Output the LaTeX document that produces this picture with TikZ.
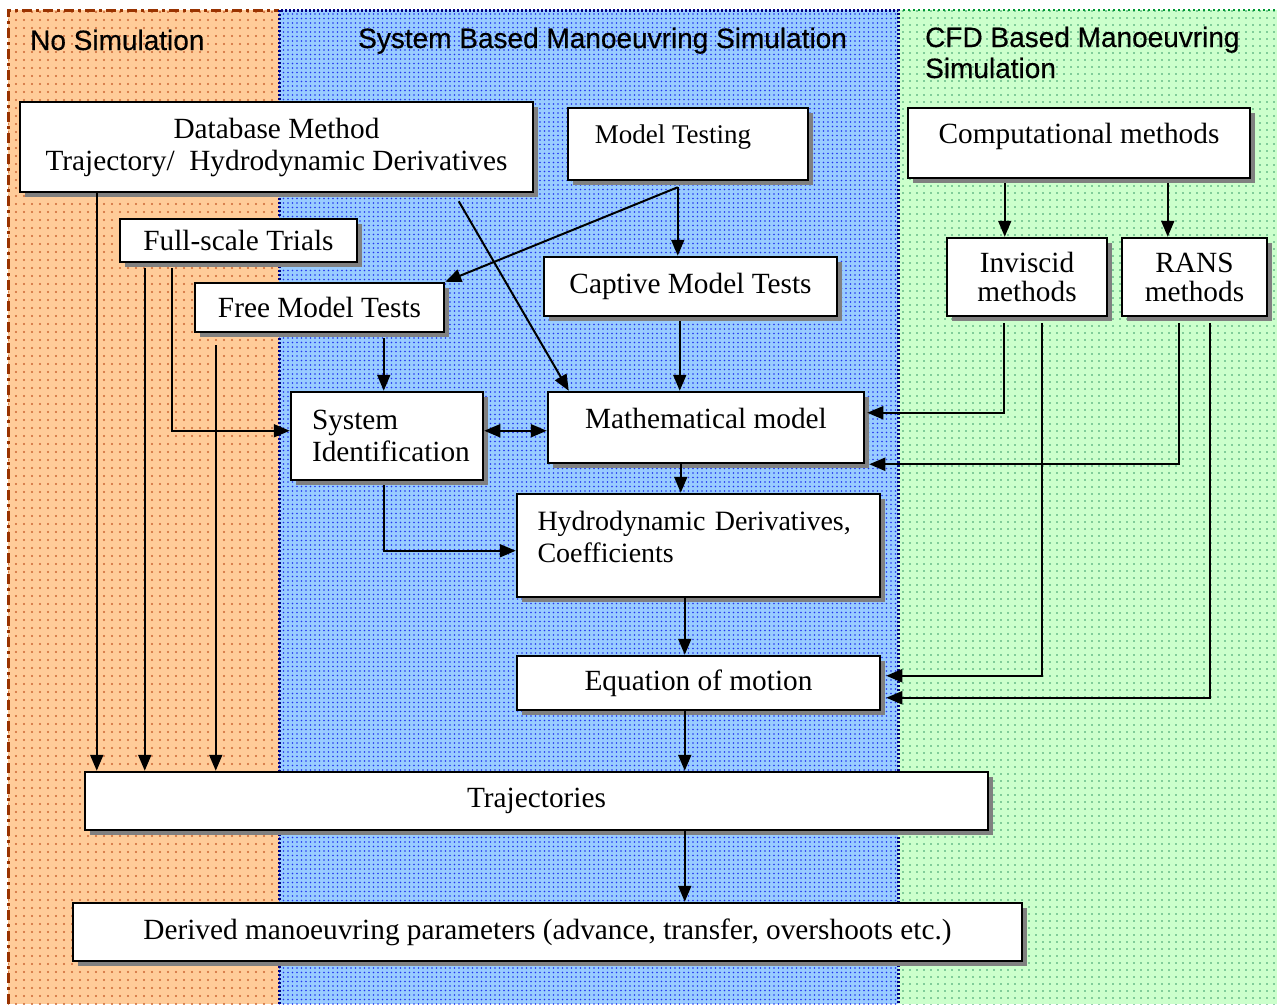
\documentclass[tikz,border=0pt]{standalone}
\usepackage{fontspec}
\setmainfont{Liberation Serif}
\newfontfamily\hdfont[FakeBold=0.4]{Liberation Sans}
\usetikzlibrary{arrows.meta,shadows,patterns.meta}
\definecolor{orfill}{HTML}{FFCC99}
\definecolor{ordot}{HTML}{CC6633}
\definecolor{orline}{HTML}{993300}
\definecolor{blfill}{HTML}{99CCFF}
\definecolor{bldot}{HTML}{2233EE}
\definecolor{blline}{HTML}{000080}
\definecolor{grfill}{HTML}{CCFFCC}
\definecolor{grdot}{HTML}{339966}
\definecolor{grline}{HTML}{009933}
\begin{document}
\begin{tikzpicture}[x=1pt,y=-1pt,
  box/.style={draw=black, line width=2.5pt, fill=white, inner sep=0pt,
    drop shadow={shadow xshift=5pt, shadow yshift=-5pt, fill=gray, opacity=1},
    font=\fontsize{29.3}{32}\selectfont, align=center},
  hdtext/.style={inner sep=0pt, font=\hdfont\fontsize{28}{31}\selectfont, anchor=base west},
  conn/.style={line width=2pt, -{Triangle[length=16pt,width=13pt]}},
  dconn/.style={line width=2pt, {Triangle[length=16pt,width=13pt]}-{Triangle[length=16pt,width=13pt]}},
]
\useasboundingbox (0,0) rectangle (1277,1004);
\fill[white] (0,0) rectangle (1277,1004);
% panels
\fill[orfill] (8,10) rectangle (279,1004);
\fill[pattern={Dots[distance=8pt,radius=1.1pt]}, pattern color=ordot] (8,10) rectangle (279,1004);
\fill[blfill] (279,10) rectangle (898,1004);
\fill[pattern={Dots[distance=4.5pt,radius=0.9pt]}, pattern color=bldot] (279,10) rectangle (898,1004);
\fill[grfill] (898,10) rectangle (1277,1004);
\fill[pattern={Dots[distance=6.5pt,radius=1pt]}, pattern color=grdot] (898,10) rectangle (1277,1004);
\draw[orline, line width=3pt, dash pattern=on 10pt off 4pt on 3pt off 4pt] (8,1004) -- (8,10) -- (279,10);
\draw[grline, line width=2.5pt, dash pattern=on 2pt off 3pt] (898,10) -- (1277,10);
\draw[blline, line width=3pt, dash pattern=on 2pt off 2pt] (279,1004) -- (279,10) -- (898,10) -- (898,1004);
% headings
\node[hdtext] (h1) at (30,50) {No Simulation};
\node[hdtext] (h2) at (358,48) {System Based Manoeuvring Simulation};
\node[hdtext] (h3) at (925,47) {CFD Based Manoeuvring};
\node[hdtext] (h4) at (925,78) {Simulation};
% boxes
\node[box, minimum width=513pt, minimum height=90pt] (db) at (276.5,147) {Database Method\\Trajectory/\ \ Hydrodynamic Derivatives};
\node[box, minimum width=240pt, minimum height=72pt, font=\fontsize{27}{30}\selectfont, text height=19pt, text depth=21pt] (mt) at (688,144) {Model Testing\hspace{30pt}};
\node[box, minimum width=342pt, minimum height=70pt, text height=19pt, text depth=19pt] (cm) at (1079,143) {Computational methods};
\node[box, minimum width=237pt, minimum height=43pt] (fs) at (238.5,240.5) {Full-scale Trials};
\node[box, minimum width=293pt, minimum height=59pt] (cap) at (690.5,286.5) {Captive Model Tests};
\node[box, minimum width=249pt, minimum height=49pt] (fm) at (319.5,307.5) {Free Model Tests};
\node[box, minimum width=160pt, minimum height=78pt, font=\fontsize{29.3}{29}\selectfont] (inv) at (1027,277) {Inviscid\\methods};
\node[box, minimum width=145pt, minimum height=78pt, font=\fontsize{29.3}{29}\selectfont] (rans) at (1194.5,277) {RANS\\methods};
\node[box, minimum width=192pt, minimum height=88pt, text width=150pt, align=left] (sid) at (387,436) {System\\\mbox{Identification}};
\node[box, minimum width=316pt, minimum height=71pt, text height=19pt, text depth=18pt] (mm) at (706,427.5) {Mathematical model};
\node[box, minimum width=363pt, minimum height=103pt, text width=322pt, align=left, font=\fontsize{28}{32}\selectfont] (hd) at (698.5,545.5) {\mbox{Hydrodynamic Derivatives,}\\Coefficients\rule[-17pt]{0pt}{17pt}};
\node[box, minimum width=363pt, minimum height=54pt] (eq) at (698.5,683) {Equation of motion};
\node[box, minimum width=903pt, minimum height=58pt] (tr) at (536.5,801) {Trajectories};
\node[box, minimum width=949pt, minimum height=58pt] (dr) at (547.5,932) {Derived manoeuvring parameters (advance, transfer, overshoots etc.)};
% connector coordinates
\coordinate (s1) at ([xshift=78pt]db.south west);
\coordinate (s2) at ([xshift=26pt,yshift=-5pt]fs.south west);
\coordinate (s3) at ([xshift=53pt,yshift=-5pt]fs.south west);
\coordinate (e3) at ([yshift=-40pt]sid.north west);
\coordinate (s4) at ([xshift=22pt,yshift=-12pt]fm.south west);
\coordinate (s5) at ([xshift=190pt,yshift=-5pt]fm.south west);
\coordinate (s6) at ([xshift=111pt,yshift=-6pt]mt.south west);
\coordinate (s8) at ([xshift=440pt,yshift=-8pt]db.south west);
\coordinate (e8) at ([xshift=22pt]mm.north west);
\coordinate (s9) at ([xshift=137pt,yshift=-4pt]cap.south west);
\coordinate (a10) at ([yshift=-40pt]sid.north east);
\coordinate (s11) at ([xshift=134pt]mm.south west);
\coordinate (s12) at ([xshift=94pt,yshift=-4pt]sid.south west);
\coordinate (e12) at ([yshift=-58pt]hd.north west);
\coordinate (s13) at ([xshift=169pt]hd.south west);
\coordinate (s14) at ([xshift=169pt]eq.south west);
\coordinate (s15) at ([xshift=601pt]tr.south west);
\coordinate (s16) at ([xshift=98pt,yshift=-4pt]cm.south west);
\coordinate (s17) at ([xshift=261pt,yshift=-4pt]cm.south west);
\coordinate (s18) at ([xshift=58pt,yshift=-6pt]inv.south west);
\coordinate (e18) at ([xshift=2pt,yshift=-22pt]mm.north east);
\coordinate (s19) at ([xshift=58pt,yshift=-6pt]rans.south west);
\coordinate (e19) at ([xshift=4pt]mm.south east);
\coordinate (s20) at ([xshift=96pt,yshift=-6pt]inv.south west);
\coordinate (e20) at ([xshift=5pt,yshift=-21pt]eq.north east);
\coordinate (s21) at ([xshift=89pt,yshift=-6pt]rans.south west);
\coordinate (e21) at ([xshift=5pt,yshift=-43pt]eq.north east);
% connectors
\draw[conn] (s1) -- (s1 |- tr.north);
\draw[conn] (s2) -- (s2 |- tr.north);
\draw[conn] (s3) |- (e3);
\draw[conn] (s4) -- (s4 |- tr.north);
\draw[conn] (s5) -- (s5 |- sid.north);
\draw[conn] (s6) -- (s6 |- cap.north);
\draw[conn] (s6) -- (fm.north east);
\draw[conn] (s8) -- (e8);
\draw[conn] (s9) -- (s9 |- mm.north);
\draw[dconn] (a10) -- (a10 -| mm.west);
\draw[conn] (s11) -- (s11 |- hd.north);
\draw[conn] (s12) |- (e12);
\draw[conn] (s13) -- (s13 |- eq.north);
\draw[conn] (s14) -- (s14 |- tr.north);
\draw[conn] (s15) -- (s15 |- dr.north);
\draw[conn] (s16) -- (s16 |- inv.north);
\draw[conn] (s17) -- (s17 |- rans.north);
\draw[conn] (s18) |- (e18);
\draw[conn] (s19) |- (e19);
\draw[conn] (s20) |- (e20);
\draw[conn] (s21) |- (e21);
\end{tikzpicture}
\end{document}
